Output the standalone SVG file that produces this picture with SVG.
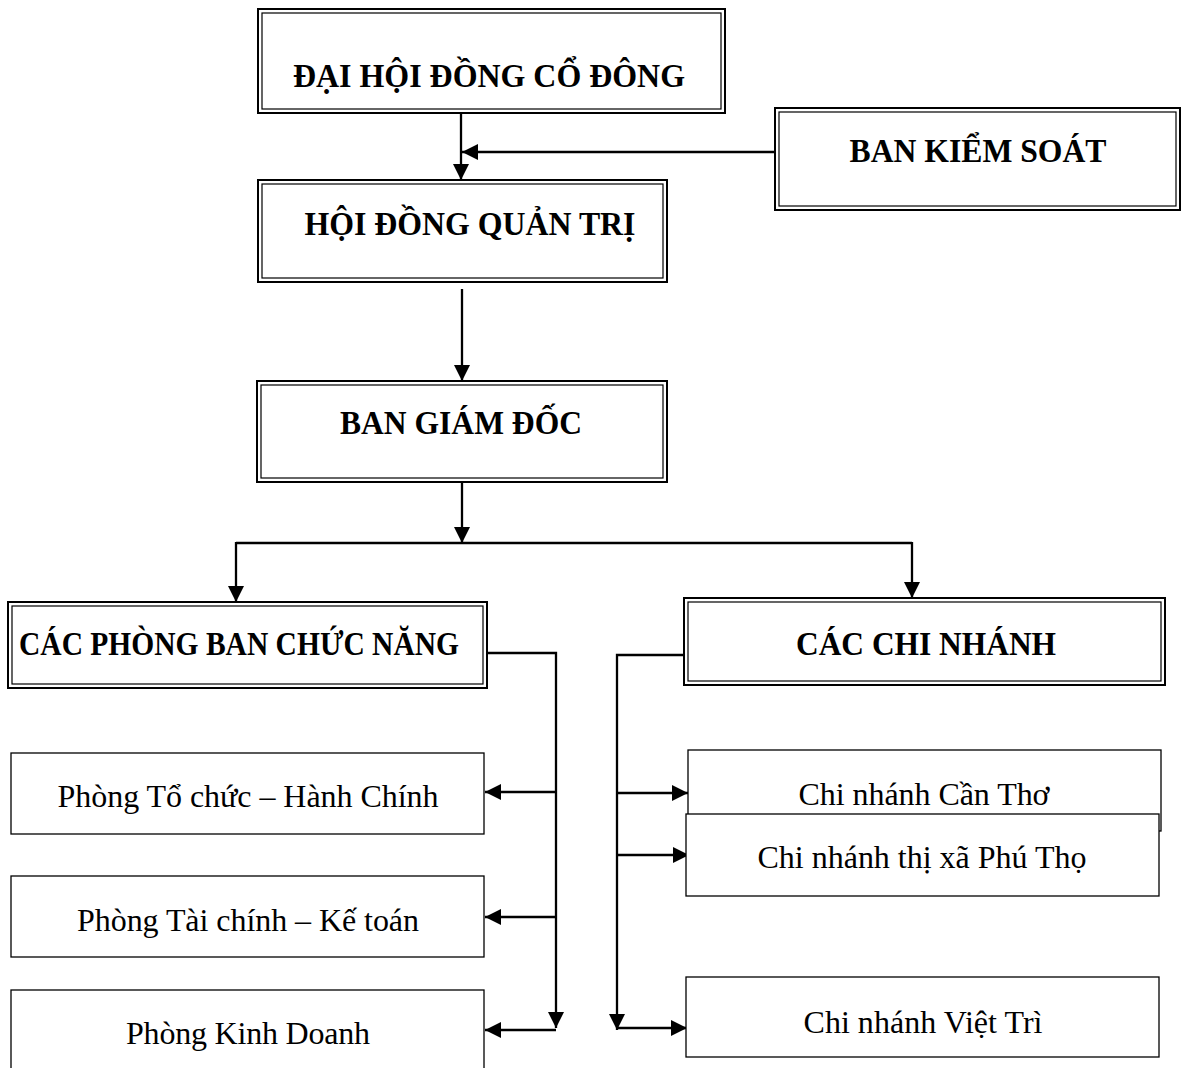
<svg xmlns="http://www.w3.org/2000/svg" width="1181" height="1068" viewBox="0 0 1181 1068">
<style>
.o{fill:#fff;stroke:#000;stroke-width:2}
.i{fill:none;stroke:#000;stroke-width:1.2}
.s{fill:#fff;stroke:#000;stroke-width:1.3}
.h{font-family:"Liberation Serif","Times New Roman",serif;font-weight:bold;font-size:33px;text-anchor:middle;fill:#000}
.t{font-family:"Liberation Serif","Times New Roman",serif;font-size:32px;text-anchor:middle;fill:#000}
.c{fill:none;stroke:#000;stroke-width:2.3}
.a{fill:none;stroke:#000;stroke-width:2.3;marker-end:url(#ah)}
</style>
<defs>
<marker id="ah" markerUnits="userSpaceOnUse" markerWidth="16" markerHeight="16" viewBox="0 0 14 14" refX="14" refY="7" orient="auto">
<path d="M0,0 L14,7 L0,14 Z" fill="#000"/>
</marker>
</defs>
<rect width="1181" height="1068" fill="#fff"/>

<g id="connectors">
<line class="a" x1="461" y1="114" x2="461" y2="180"/>
<line class="a" x1="775" y1="152" x2="462" y2="152"/>
<line class="a" x1="462" y1="289" x2="462" y2="381"/>
<line class="a" x1="462" y1="482" x2="462" y2="543"/>
<polyline class="c" points="236,543 912,543"/>
<polyline class="a" points="236,542 236,602"/>
<polyline class="a" points="912,542 912,598"/>
<polyline class="a" points="487,653 556,653 556,1028"/>
<line class="a" x1="556" y1="792" x2="485" y2="792"/>
<line class="a" x1="556" y1="917" x2="485" y2="917"/>
<line class="a" x1="556" y1="1030" x2="485" y2="1030"/>
<polyline class="a" points="684,655 617,655 617,1030"/>
<line class="a" x1="617" y1="793" x2="688" y2="793"/>
<line class="a" x1="618" y1="855" x2="689" y2="855"/>
<line class="a" x1="617" y1="1028" x2="687" y2="1028"/>
</g>

<g id="dai-hoi-dong-co-dong">
<rect class="o" x="258" y="9" width="467" height="104"/>
<rect class="i" x="262" y="13" width="459" height="96"/>
<text class="h" x="489" y="87" textLength="392" lengthAdjust="spacingAndGlyphs">ĐẠI HỘI ĐỒNG CỔ ĐÔNG</text>
</g>

<g id="ban-kiem-soat">
<rect class="o" x="775" y="108" width="405" height="102"/>
<rect class="i" x="779" y="112" width="397" height="94"/>
<text class="h" x="978" y="162" textLength="257" lengthAdjust="spacingAndGlyphs">BAN KIỂM SOÁT</text>
</g>

<g id="hoi-dong-quan-tri">
<rect class="o" x="258" y="180" width="409" height="102"/>
<rect class="i" x="262" y="184" width="401" height="94"/>
<text class="h" x="470" y="235" textLength="331" lengthAdjust="spacingAndGlyphs">HỘI ĐỒNG QUẢN TRỊ</text>
</g>

<g id="ban-giam-doc">
<rect class="o" x="257" y="381" width="410" height="101"/>
<rect class="i" x="261" y="385" width="402" height="93"/>
<text class="h" x="461" y="434" textLength="242" lengthAdjust="spacingAndGlyphs">BAN GIÁM ĐỐC</text>
</g>

<g id="cac-phong-ban-chuc-nang">
<rect class="o" x="8" y="602" width="479" height="86"/>
<rect class="i" x="12" y="606" width="471" height="78"/>
<text class="h" x="239" y="655" style="font-size:34px" textLength="440" lengthAdjust="spacingAndGlyphs">CÁC PHÒNG BAN CHỨC NĂNG</text>
</g>

<g id="cac-chi-nhanh">
<rect class="o" x="684" y="598" width="481" height="87"/>
<rect class="i" x="688" y="602" width="473" height="79"/>
<text class="h" x="926" y="655" textLength="260" lengthAdjust="spacingAndGlyphs">CÁC CHI NHÁNH</text>
</g>

<g id="phong-to-chuc-hanh-chinh">
<rect class="s" x="11" y="753" width="473" height="81"/>
<text class="t" x="248" y="807" textLength="381">Phòng Tổ chức – Hành Chính</text>
</g>

<g id="phong-tai-chinh-ke-toan">
<rect class="s" x="11" y="876" width="473" height="81"/>
<text class="t" x="248" y="931" textLength="342">Phòng Tài chính – Kế toán</text>
</g>

<g id="phong-kinh-doanh">
<rect class="s" x="11" y="990" width="473" height="90"/>
<text class="t" x="248" y="1044" textLength="244">Phòng Kinh Doanh</text>
</g>

<g id="chi-nhanh-can-tho">
<rect class="s" x="688" y="750" width="473" height="81"/>
<text class="t" x="924" y="805" textLength="251">Chi nhánh Cần Thơ</text>
</g>

<g id="chi-nhanh-phu-tho">
<rect class="s" x="686" y="814" width="473" height="82"/>
<text class="t" x="922" y="868" textLength="329">Chi nhánh thị xã Phú Thọ</text>
</g>

<g id="chi-nhanh-viet-tri">
<rect class="s" x="686" y="977" width="473" height="80"/>
<text class="t" x="923" y="1033" textLength="239">Chi nhánh Việt Trì</text>
</g>
</svg>
